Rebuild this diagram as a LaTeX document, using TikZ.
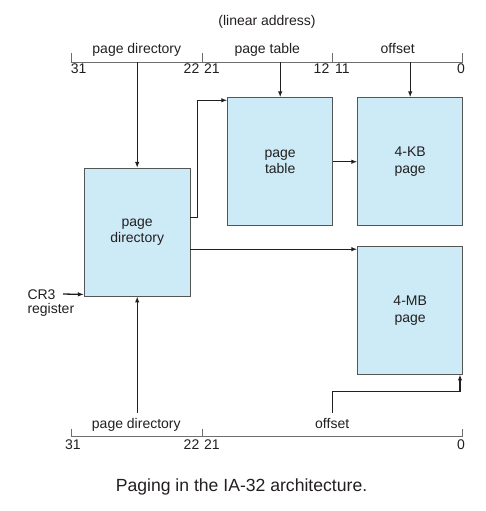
\documentclass[tikz,border=0pt]{standalone}
\usepackage{fontspec}
\setmainfont{Liberation Sans}
\usetikzlibrary{arrows.meta}
\definecolor{boxfill}{RGB}{204,235,247}
\definecolor{boxline}{RGB}{85,85,85}
\definecolor{ink}{RGB}{35,31,32}
\definecolor{barline}{RGB}{110,110,110}
\begin{document}
\begin{tikzpicture}[x=1pt,y=-1pt,
  every node/.style={text=ink,font=\fontsize{14}{16.5}\selectfont,inner sep=0pt},
  membox/.style={draw=boxline,line width=0.8pt,fill=boxfill,minimum width=105pt,minimum height=128pt,align=center},
  arr/.style={draw=ink,line width=1.3pt,-{Latex[length=6pt,width=4.5pt]}},
  plain/.style={draw=ink,line width=1.3pt},
  bar/.style={draw=barline,line width=0.8pt},
  lbl/.style={anchor=base},
  numl/.style={anchor=base west},
  numr/.style={anchor=base east}]
\useasboundingbox (0,0) rectangle (485,511);

% title
\node[lbl] (title) at (267,25.5) {(linear address)};

% top bar
\draw[bar] (71.7,53) -- (71.7,62) -- (462.7,62) -- (462.7,53);
\draw[bar] (202,53) -- (202,62);
\draw[bar] (332.7,53) -- (332.7,62);
\node[lbl] (tpdl) at (136.8,53) {page directory};
\node[lbl] (tptl) at (267.3,53) {page table};
\node[lbl] (tofl) at (397.7,53) {offset};
\node[numl] (t31) at (70.7,74) {31};
\node[numr] (t22) at (199.5,74) {22};
\node[numl] (t21) at (204,74) {21};
\node[numr] (t12) at (329.5,74) {12};
\node[numl] (t11) at (335,74) {11};
\node[numr] (t0) at (465,74) {0};

% boxes
\node[membox,minimum width=105.7pt,minimum height=127.7pt] (pd) at (137.2,232.2) {page\\directory};
\node[membox] (pt) at (280.2,161.7) {page\\table};
\node[membox] (kb) at (410.2,161.7) {4-KB\\page};
\node[membox,minimum height=127.3pt] (mb) at (410.2,310.4) {4-MB\\page};

% bottom bar
\draw[bar] (71.7,428.7) -- (71.7,436.7) -- (462.7,436.7) -- (462.7,428.7);
\draw[bar] (202,428.7) -- (202,436.7);
\node[lbl] (bpdl) at (136.3,428) {page directory};
\node[lbl] (bofl) at (332.2,428) {offset};
\node[numl] (b31) at (65,449.3) {31};
\node[numr] (b22) at (199.5,449.3) {22};
\node[numl] (b21) at (204,449.3) {21};
\node[numr] (b0) at (465,449.3) {0};

% CR3
\node[anchor=base west,align=left] (cr3) at (27.3,299) {CR3};
\node[anchor=base west] (reg) at (27.3,313.3) {register};
\coordinate (cr3s) at (63,294);

% connector coordinates
\coordinate (tpd) at (137.2,62);
\coordinate (tpt) at (280.2,62);
\coordinate (tof) at (410.2,62);
\coordinate (bpd) at (137.2,413);
\coordinate (bof) at (332.7,412.7);
\coordinate (bend) at (460,391.7);

% connectors
\draw[arr] (tpd) -- (pd.north);
\draw[arr] (tpt) -- (pt.north);
\draw[arr] (tof) -- (kb.north);
\draw[arr] ([yshift=14.7pt]pd.east) -- ++(6.7,0) |- ([yshift=-3pt]pt.north west);
\draw[arr] (pt.east) -- (kb.west);
\draw[arr] ([yshift=-17pt]pd.east) -- ([yshift=-17pt]pd.east -| mb.west);
\draw[arr] (cr3s) -- ([yshift=2pt]pd.south west);
\draw[arr] (bpd) -- (pd.south);
\draw[arr] (bof) |- (bend) -- (bend |- mb.south);

% caption
\node[lbl,font=\fontsize{17.6}{20}\selectfont] (cap) at (241.5,491.7) {Paging in the IA-32 architecture.};
\end{tikzpicture}
\end{document}
